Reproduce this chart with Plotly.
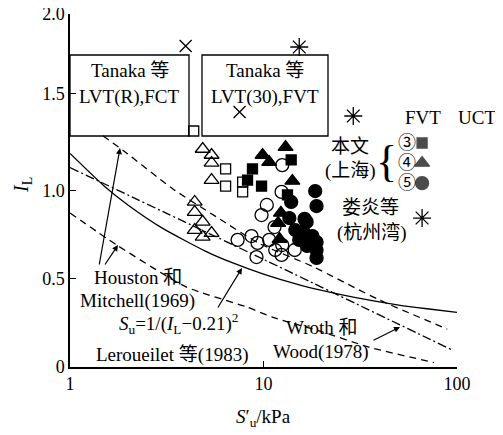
import plotly.graph_objects as go

# ---------------- data ----------------
# 本文(上海) UCT (open) and FVT (filled) results, S'u in kPa, IL
uct3_su = [4.36, 6.37, 6.37, 7.80, 7.80]
uct3_il = [1.337, 1.122, 1.025, 1.048, 0.992]

uct4_su = [4.85, 5.39, 5.39, 5.39, 4.41, 4.41, 4.85, 4.41, 4.85, 5.39]
uct4_il = [1.235, 1.201, 1.156, 1.059, 0.935, 0.878, 0.822, 0.776, 0.737, 0.759]

uct5_su = [12.5, 12.4, 10.4, 9.77, 11.4, 7.35, 8.67, 9.31, 9.20, 10.7, 12.4, 12.5, 14.5, 11.5]
uct5_il = [1.144, 0.992, 0.918, 0.861, 0.793, 0.720, 0.742, 0.703, 0.623, 0.720, 0.635, 0.691, 0.663, 0.663]

fvt3_su = [8.77, 8.27, 9.77, 13.9, 13.3]
fvt3_il = [1.122, 1.059, 1.025, 1.173, 0.975]

fvt4_su = [9.89, 10.7, 13.0, 14.1, 12.3, 11.9, 12.1]
fvt4_il = [1.201, 1.161, 1.246, 1.054, 0.873, 0.816, 0.725]

fvt5_su = [18.5, 18.8, 13.9, 16.3, 14.6, 16.7, 16.1, 17.9, 18.8, 18.8, 18.8, 15.3, 16.8, 13.6]
fvt5_il = [0.997, 0.912, 0.935, 0.839, 0.776, 0.822, 0.765, 0.742, 0.708, 0.663, 0.618, 0.720, 0.686, 0.844]

# 娄炎等(杭州湾)
lou_fvt_su = [15.3, 29.1]
lou_fvt_il = [1.813, 1.422]
lou_uct_su = [3.96, 7.52]
lou_uct_il = [1.819, 1.445]

# reference curves
lerou_su = [1, 1.5, 2, 3, 5, 7, 10, 15, 20, 30, 50, 70, 100]
lerou_il = [1.21, 1.026, 0.917, 0.787, 0.657, 0.588, 0.526, 0.468, 0.434, 0.393, 0.351, 0.330, 0.310]

wroth_su = [1, 10, 93]
wroth_il = [1.13, 0.61, 0.10]

hm_up_su = [1.48, 1.92, 3.39, 5.72, 9.5, 17.9, 39.7, 89]
hm_up_il = [1.31, 1.22, 1.01, 0.85, 0.70, 0.57, 0.38, 0.215]

hm_lo_su = [1, 1.75, 4.0, 8.2, 11.1, 20, 35, 76]
hm_lo_il = [0.873, 0.69, 0.453, 0.34, 0.283, 0.20, 0.113, 0.025]

# legend key positions (in data units; the UCT column lies right of the axis end)
leg_fvt_su = 66
leg_uct_su = 127
leg_rows_il = [1.269, 1.156, 1.042, 0.844]

x_tickvals = [1, 10, 100]
x_ticktext = ["1", "10", "100"]
# the original drawing places its "1.5" tick slightly high; keep that look
y_tickvals = [0, 0.5, 1.0, 1.547, 2.0]
y_ticktext = ["0", "0.5", "1.0", "1.5", "2.0"]

FONT = "Liberation Serif, Times New Roman, Noto Sans CJK SC, serif"
BLK = "black"

fig = go.Figure()

def curve(xs, ys, dash):
    fig.add_trace(go.Scatter(x=xs, y=ys, mode="lines",
                             line=dict(color=BLK, width=1.3, dash=dash, shape="spline", smoothing=0.6),
                             hoverinfo="skip", showlegend=False))

curve(lerou_su, lerou_il, "solid")
curve(wroth_su, wroth_il, "9px,3px,2px,3px")
curve(hm_up_su, hm_up_il, "7px,5px")
curve(hm_lo_su, hm_lo_il, "7px,5px")

def pts(xs, ys, symbol, size, lw=1.3):
    fig.add_trace(go.Scatter(
        x=xs, y=ys, mode="markers", cliponaxis=False, showlegend=False,
        marker=dict(symbol=symbol, size=size, color=BLK,
                    line=dict(color=BLK, width=lw))))

pts(uct3_su, uct3_il, "square-open", 10)
pts(uct4_su, uct4_il, "triangle-up-open", 13)
pts(uct5_su, uct5_il, "circle-open", 13)
pts(fvt3_su, fvt3_il, "square", 10)
pts(fvt4_su, fvt4_il, "triangle-up", 13)
pts(fvt5_su, fvt5_il, "circle", 13)
pts(lou_fvt_su, lou_fvt_il, "asterisk-open", 15)
pts(lou_uct_su, lou_uct_il, "x-thin-open", 12)

# legend keys
pts([leg_fvt_su] * 3, leg_rows_il[:3], ["square", "triangle-up", "circle"], [10, 13, 13])
pts([leg_uct_su] * 3, leg_rows_il[:3], ["square-open", "triangle-up-open", "circle-open"], [10, 13, 13])
pts([leg_fvt_su], [leg_rows_il[3]], "asterisk-open", 15)
pts([leg_uct_su], [leg_rows_il[3]], "x-thin-open", 12)

# The page body adds an 8px offset, so the figure is laid out 8px smaller.
OFF = 8
W, H = 503 - OFF, 435 - OFF
L, R, T, B = 70, 457, 14, 367          # plot area in window pixels
def px(x):
    return (x - L) / (R - L)
def py(y):
    return (B - y) / (B - T)

shapes = []
for (x0, x1) in [(70, 189), (202, 328)]:
    shapes.append(dict(type="rect", xref="paper", yref="paper",
                       x0=px(x0), x1=px(x1), y0=py(136), y1=py(55),
                       line=dict(color=BLK, width=1.3), layer="below"))

ann = []
def text(x, y, s, size=19, **kw):
    ann.append(dict(x=px(x), y=py(y), xref="paper", yref="paper", text=s,
                    showarrow=False, font=dict(family=FONT, size=size, color=BLK),
                    xanchor="center", yanchor="middle", **kw))

def arrow(hx, hy, tx, ty):
    ann.append(dict(x=px(hx), y=py(hy), xref="paper", yref="paper", text="",
                    showarrow=True, ax=tx - hx, ay=ty - hy, arrowhead=2,
                    arrowsize=1, arrowwidth=1.2, arrowcolor=BLK))

text(129.5, 71, "Tanaka 等")
text(129.5, 97, "LVT(R),FCT")
text(265, 71, "Tanaka 等")
text(265, 97, "LVT(30),FVT")

text(423, 117, "FVT")
text(477, 117, "UCT")
text(407, 143, "③", size=18)
text(407, 163, "④", size=18)
text(407, 183, "⑤", size=18)
text(350, 146, "本文")
text(350, 171, "(上海)")
text(386, 161, "{", size=44)
text(370, 207, "娄炎等")
text(372, 233, "(杭州湾)")

text(138, 277, "Houston 和")
text(137, 301, "Mitchell(1969)")
text(178, 323, "<i>S</i><sub>u</sub>=1/(<i>I</i><sub>L</sub>−0.21)<sup>2</sup>")
text(172, 355, "Leroueilet 等(1983)")
text(322, 327, "Wroth 和")
text(321, 352, "Wood(1978)")

arrow(120, 148, 99, 266)
arrow(118, 245, 104, 266)
arrow(242, 268, 217, 309)
arrow(400, 327, 372, 341)

text(22, 185, "<i>I</i><sub>L</sub>", size=20, textangle=-90)
text(263, 418, "<i>S</i>′<sub>u</sub>/kPa", size=19)

fig.update_layout(
    template="none",
    width=W, height=H,
    margin=dict(l=L - OFF, r=W - (R - OFF), t=T - OFF, b=H - (B - OFF), autoexpand=False),
    paper_bgcolor="white", plot_bgcolor="white",
    font=dict(family=FONT, size=19, color=BLK),
    showlegend=False,
    shapes=shapes, annotations=ann,
    xaxis=dict(type="log", range=[0, 2], showgrid=False, zeroline=False,
               showline=True, linecolor=BLK, linewidth=1.5, mirror=False,
               ticks="inside", ticklen=6, tickwidth=1.3, tickcolor=BLK,
               tickvals=x_tickvals, ticktext=x_ticktext, automargin=False,
               ticklabeloverflow="allow",
               tickfont=dict(family=FONT, size=18, color=BLK)),
    yaxis=dict(range=[0, 2], showgrid=False, zeroline=False,
               showline=True, linecolor=BLK, linewidth=1.5, mirror=False,
               ticks="inside", ticklen=6, tickwidth=1.3, tickcolor=BLK,
               tickvals=y_tickvals, ticktext=y_ticktext, automargin=False,
               ticklabeloverflow="allow",
               tickfont=dict(family=FONT, size=18, color=BLK)),
)

fig.write_html("out.html")
